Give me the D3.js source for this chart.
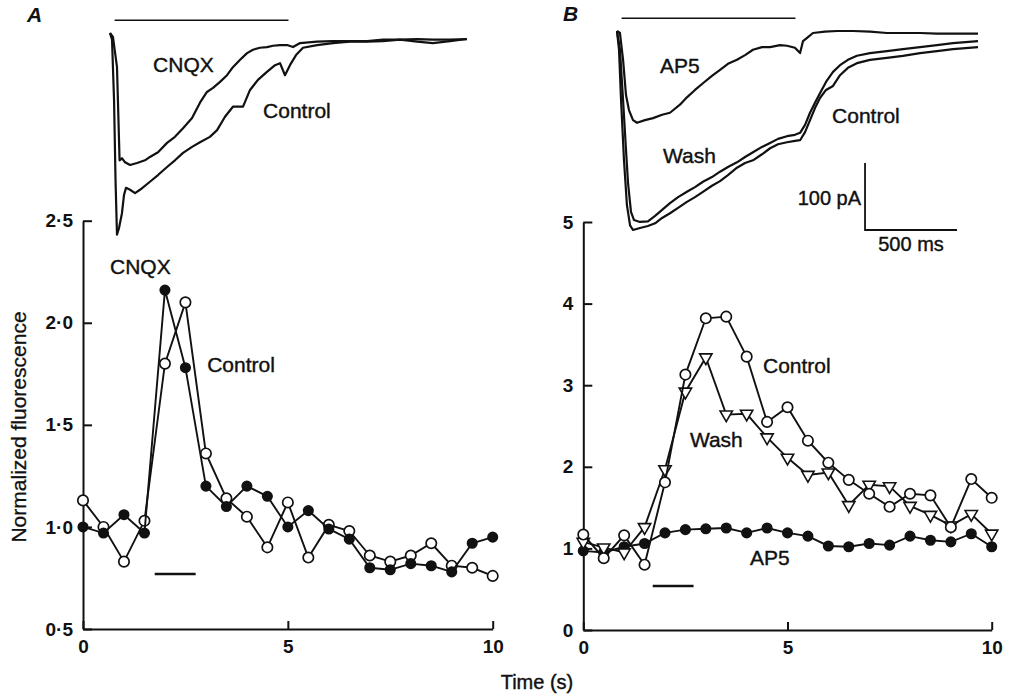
<!DOCTYPE html>
<html>
<head>
<meta charset="utf-8">
<script src="https://cdn.jsdelivr.net/npm/d3@7"></script>
<style>
  body { margin: 0; background: #fff; }
  svg text { font-family: "Liberation Sans", Arial, Helvetica, sans-serif; fill: #111; }
</style>
</head>
<body>
<svg id="fig" width="1013" height="699"></svg>
<script>
// sample times (s) of the fluorescence measurements
var times = [0, 0.5, 1, 1.5, 2, 2.5, 3, 3.5, 4, 4.5, 5, 5.5, 6, 6.5, 7, 7.5, 8, 8.5, 9, 9.5, 10];

// panel A: normalized fluorescence
var cnqxA    = [1.00, 0.97, 1.06, 0.97, 2.16, 1.78, 1.20, 1.10, 1.20, 1.15, 1.00, 1.08, 0.99, 0.94, 0.80, 0.79, 0.82, 0.81, 0.78, 0.92, 0.95];
var controlA = [1.13, 1.00, 0.83, 1.03, 1.80, 2.10, 1.36, 1.14, 1.05, 0.90, 1.12, 0.85, 1.01, 0.98, 0.86, 0.83, 0.86, 0.92, 0.81, 0.80, 0.76];

// panel B: normalized fluorescence
var ap5B     = [0.97, 0.95, 1.02, 1.06, 1.19, 1.23, 1.24, 1.25, 1.19, 1.25, 1.19, 1.15, 1.03, 1.02, 1.06, 1.04, 1.15, 1.10, 1.08, 1.18, 1.02];
var controlB = [1.17, 0.88, 1.16, 0.80, 1.81, 3.13, 3.82, 3.84, 3.35, 2.55, 2.73, 2.32, 2.05, 1.84, 1.67, 1.51, 1.67, 1.65, 1.26, 1.85, 1.62];
var washB    = [1.08, 1.01, 0.95, 1.26, 1.97, 2.92, 3.34, 2.64, 2.65, 2.36, 2.11, 1.90, 1.93, 1.53, 1.78, 1.76, 1.52, 1.41, 1.28, 1.42, 1.18];

var ticksA = [0.5, 1.0, 1.5, 2.0, 2.5];
var ticksB = [0, 1, 2, 3, 4, 5];
var ticksX = [0, 5, 10];

// stimulus period (s) under the fluorescence plots
var stimFluo = [1.75, 2.75];

// membrane current traces: [time (ms), current (pA)]
var cnqxTrace = [[0,0],[16,-6],[38,-51],[43,-100],[52,-190],[65,-187],[82,-193],[109,-197],[147,-194],[190,-190],
  [217,-185],[261,-178],[310,-164],[353,-155],[397,-142],[446,-127],[489,-104],[527,-88],[560,-82],[598,-73],
  [636,-63],[668,-51],[707,-40],[745,-30],[777,-25],[815,-22],[853,-21],[886,-19],[924,-18],[962,-18],
  [995,-21],[1033,-15],[1125,-13],[1212,-12],[1304,-12],[1397,-12],[1484,-10],[1576,-10],[1669,-9],[1755,-10],
  [1848,-10],[1940,-9]];
var controlTraceA = [[0,0],[11,-10],[22,-100],[30,-219],[38,-301],[49,-291],[65,-269],[76,-242],[87,-231],[109,-234],
  [136,-239],[163,-234],[217,-222],[261,-212],[310,-200],[353,-190],[397,-179],[446,-170],[489,-163],[543,-155],
  [582,-145],[625,-125],[668,-110],[723,-110],[761,-85],[804,-70],[853,-58],[897,-48],[924,-45],[951,-63],
  [978,-48],[1011,-33],[1049,-22],[1125,-18],[1212,-15],[1304,-13],[1397,-13],[1484,-12],[1576,-10],[1669,-13],
  [1755,-15],[1848,-12],[1940,-9]];
var ap5Trace = [[0,0],[16,-3],[33,-43],[49,-96],[65,-118],[87,-133],[109,-137],[152,-133],[196,-130],[245,-125],
  [288,-122],[342,-110],[380,-99],[424,-88],[467,-78],[516,-67],[560,-58],[603,-49],[652,-43],[696,-36],
  [739,-28],[788,-24],[832,-24],[886,-21],[924,-22],[967,-25],[995,-33],[1011,-15],[1038,-9],[1065,-3],
  [1130,-1],[1196,0],[1283,0],[1375,-1],[1467,-3],[1554,-3],[1647,-3],[1739,-4],[1826,-4],[1962,-4]];
var washTrace = [[0,0],[16,-28],[33,-103],[49,-178],[60,-227],[76,-270],[92,-282],[125,-285],[168,-284],[207,-276],
  [245,-267],[288,-257],[332,-248],[380,-240],[424,-233],[467,-225],[516,-218],[560,-210],[603,-203],[652,-196],
  [696,-188],[739,-181],[788,-173],[832,-167],[875,-161],[924,-157],[967,-155],[995,-152],[1022,-140],[1049,-122],
  [1076,-107],[1103,-93],[1136,-76],[1174,-61],[1212,-51],[1255,-43],[1304,-37],[1375,-33],[1467,-30],[1554,-27],
  [1647,-24],[1739,-21],[1826,-18],[1962,-15]];
var controlTraceB = [[0,0],[11,-28],[22,-103],[38,-193],[54,-260],[71,-290],[87,-297],[125,-294],[168,-291],[207,-287],
  [245,-279],[288,-272],[332,-264],[380,-255],[424,-248],[467,-240],[516,-231],[560,-224],[603,-215],[652,-204],
  [696,-197],[739,-193],[788,-184],[832,-175],[875,-169],[924,-166],[967,-164],[995,-163],[1022,-151],[1049,-133],
  [1076,-115],[1103,-100],[1136,-88],[1174,-82],[1212,-66],[1255,-55],[1304,-48],[1375,-43],[1467,-40],[1554,-37],
  [1647,-33],[1739,-30],[1826,-27],[1962,-24]];

// agonist application (ms) above the traces
var stimTrace = [25, 970];

var svg = d3.select("#fig");
var ink = "#111";

var xA = d3.scaleLinear().domain([0, 10]).range([83, 492.7]);
var yA = d3.scaleLinear().domain([0.5, 2.5]).range([629, 220.7]);
var xB = d3.scaleLinear().domain([0, 10]).range([583.3, 991.7]);
var yB = d3.scaleLinear().domain([0, 5]).range([630, 222]);

// trace scales: 500 ms = 92 px, 100 pA = 67 px
var tA = d3.scaleLinear().domain([0, 2000]).range([110, 478]);
var iA = d3.scaleLinear().domain([0, -100]).range([33, 100]);
var tB = d3.scaleLinear().domain([0, 2000]).range([617, 985]);
var iB = d3.scaleLinear().domain([0, -100]).range([31, 98]);

function dotFmt(f) {
  return function(d) { return f(d).replace(".", "\u00b7"); };
}

function drawAxes(x, y, yTicks, yFmt) {
  var gx = svg.append("g")
      .attr("transform", "translate(0," + y.range()[0] + ")")
      .call(d3.axisBottom(x).tickValues(ticksX).tickSizeInner(-8).tickSizeOuter(0).tickPadding(11));
  var gy = svg.append("g")
      .attr("transform", "translate(" + x.range()[0] + ",0)")
      .call(d3.axisLeft(y).tickValues(yTicks).tickFormat(yFmt).tickSizeInner(-9).tickSizeOuter(0).tickPadding(10));
  [gx, gy].forEach(function(g) {
    g.attr("font-family", null).attr("font-size", null);
    g.selectAll("path, line").attr("stroke", ink).attr("stroke-width", 2);
    g.selectAll("text").style("font-size", "19px").style("font-weight", "bold");
  });
}

function drawSeries(x, y, vals, marker) {
  var pts = times.map(function(t, i) { return [t, vals[i]]; });
  var line = d3.line().x(function(d) { return x(d[0]); }).y(function(d) { return y(d[1]); });
  svg.append("path").datum(pts)
      .attr("d", line)
      .attr("fill", "none").attr("stroke", ink).attr("stroke-width", 1.9);
  var g = svg.append("g");
  if (marker == "tri") {
    g.selectAll("path").data(pts).enter().append("path")
        .attr("d", d3.symbol().type(d3.symbolTriangle).size(66))
        .attr("transform", function(d) { return "translate(" + x(d[0]) + "," + y(d[1]) + ") rotate(180)"; })
        .attr("fill", "#fff").attr("stroke", ink).attr("stroke-width", 1.6);
  } else {
    g.selectAll("circle").data(pts).enter().append("circle")
        .attr("cx", function(d) { return x(d[0]); })
        .attr("cy", function(d) { return y(d[1]); })
        .attr("r", marker == "filled" ? 4.7 : 5.2)
        .attr("fill", marker == "filled" ? ink : "#fff")
        .attr("stroke", ink).attr("stroke-width", 1.7);
  }
}

function drawTrace(t, i, data) {
  var line = d3.line().x(function(d) { return t(d[0]); }).y(function(d) { return i(d[1]); });
  svg.append("path").datum(data)
      .attr("d", line)
      .attr("fill", "none").attr("stroke", ink).attr("stroke-width", 2.2)
      .attr("stroke-linejoin", "round");
}

function label(x, y, txt, opts) {
  opts = opts || {};
  return svg.append("text")
      .attr("x", x).attr("y", y)
      .attr("text-anchor", opts.anchor || "start")
      .style("font-size", (opts.size || 21) + "px")
      .style("font-weight", opts.weight || "normal")
      .style("font-style", opts.style || "normal")
      .style("stroke", ink).style("stroke-width", opts.weight ? 0 : 0.4)
      .text(txt);
}

// ---- fluorescence plots ----
drawAxes(xA, yA, ticksA, dotFmt(d3.format(".1f")));
drawAxes(xB, yB, ticksB, d3.format("d"));

// stimulus bars
svg.append("line")
    .attr("x1", xA(stimFluo[0])).attr("x2", xA(stimFluo[1]))
    .attr("y1", yA(0.77)).attr("y2", yA(0.77))
    .attr("stroke", ink).attr("stroke-width", 2.5);
svg.append("line")
    .attr("x1", xB(stimFluo[0] - 0.05)).attr("x2", xB(stimFluo[1] - 0.05))
    .attr("y1", yB(0.54)).attr("y2", yB(0.54))
    .attr("stroke", ink).attr("stroke-width", 2.5);

drawSeries(xA, yA, controlA, "open");
drawSeries(xA, yA, cnqxA, "filled");

drawSeries(xB, yB, ap5B, "filled");
drawSeries(xB, yB, washB, "tri");
drawSeries(xB, yB, controlB, "open");

label(xA(0.66), yA(2.24), "CNQX");
label(xA(3.03), yA(1.76), "Control");
label(xB(4.40), yB(3.15), "Control");
label(xB(2.61), yB(2.24), "Wash");
label(xB(4.08), yB(0.80), "AP5");

// ---- current traces ----
svg.append("line")
    .attr("x1", tA(stimTrace[0])).attr("x2", tA(stimTrace[1]))
    .attr("y1", iA(19)).attr("y2", iA(19))
    .attr("stroke", ink).attr("stroke-width", 1.7);
svg.append("line")
    .attr("x1", tB(stimTrace[0])).attr("x2", tB(stimTrace[1]))
    .attr("y1", iB(19)).attr("y2", iB(19))
    .attr("stroke", ink).attr("stroke-width", 1.7);

drawTrace(tA, iA, controlTraceA);
drawTrace(tA, iA, cnqxTrace);
drawTrace(tB, iB, controlTraceB);
drawTrace(tB, iB, washTrace);
drawTrace(tB, iB, ap5Trace);

label(tA(234), iA(-58), "CNQX");
label(tA(832), iA(-127), "Control");
label(tB(234), iB(-63), "AP5");
label(tB(250), iB(-197), "Wash");
label(tB(1169), iB(-137), "Control");

// scale bar: 100 pA, 500 ms
var sbT = 1348, sbI = -197;
svg.append("path")
    .attr("d", "M" + tB(sbT) + "," + iB(sbI) + "V" + iB(sbI - 100) + "H" + tB(sbT + 500))
    .attr("fill", "none").attr("stroke", ink).attr("stroke-width", 1.8);
label(tB(sbT) - 4, iB(sbI - 63), "100 pA", {anchor: "end", size: 20});
label(tB(sbT + 250), iB(sbI - 100) + 21, "500 ms", {anchor: "middle", size: 20});

// panel letters and axis titles
label(27, 22, "A", {weight: "bold", style: "italic"});
label(563, 21, "B", {weight: "bold", style: "italic"});
svg.append("text")
    .attr("transform", "translate(26,427) rotate(-90)")
    .attr("text-anchor", "middle")
    .style("font-size", "21px")
    .style("stroke", ink).style("stroke-width", 0.3)
    .text("Normalized fluorescence");
label(537, 689, "Time (s)", {size: 20, anchor: "middle"});
</script>
</body>
</html>
